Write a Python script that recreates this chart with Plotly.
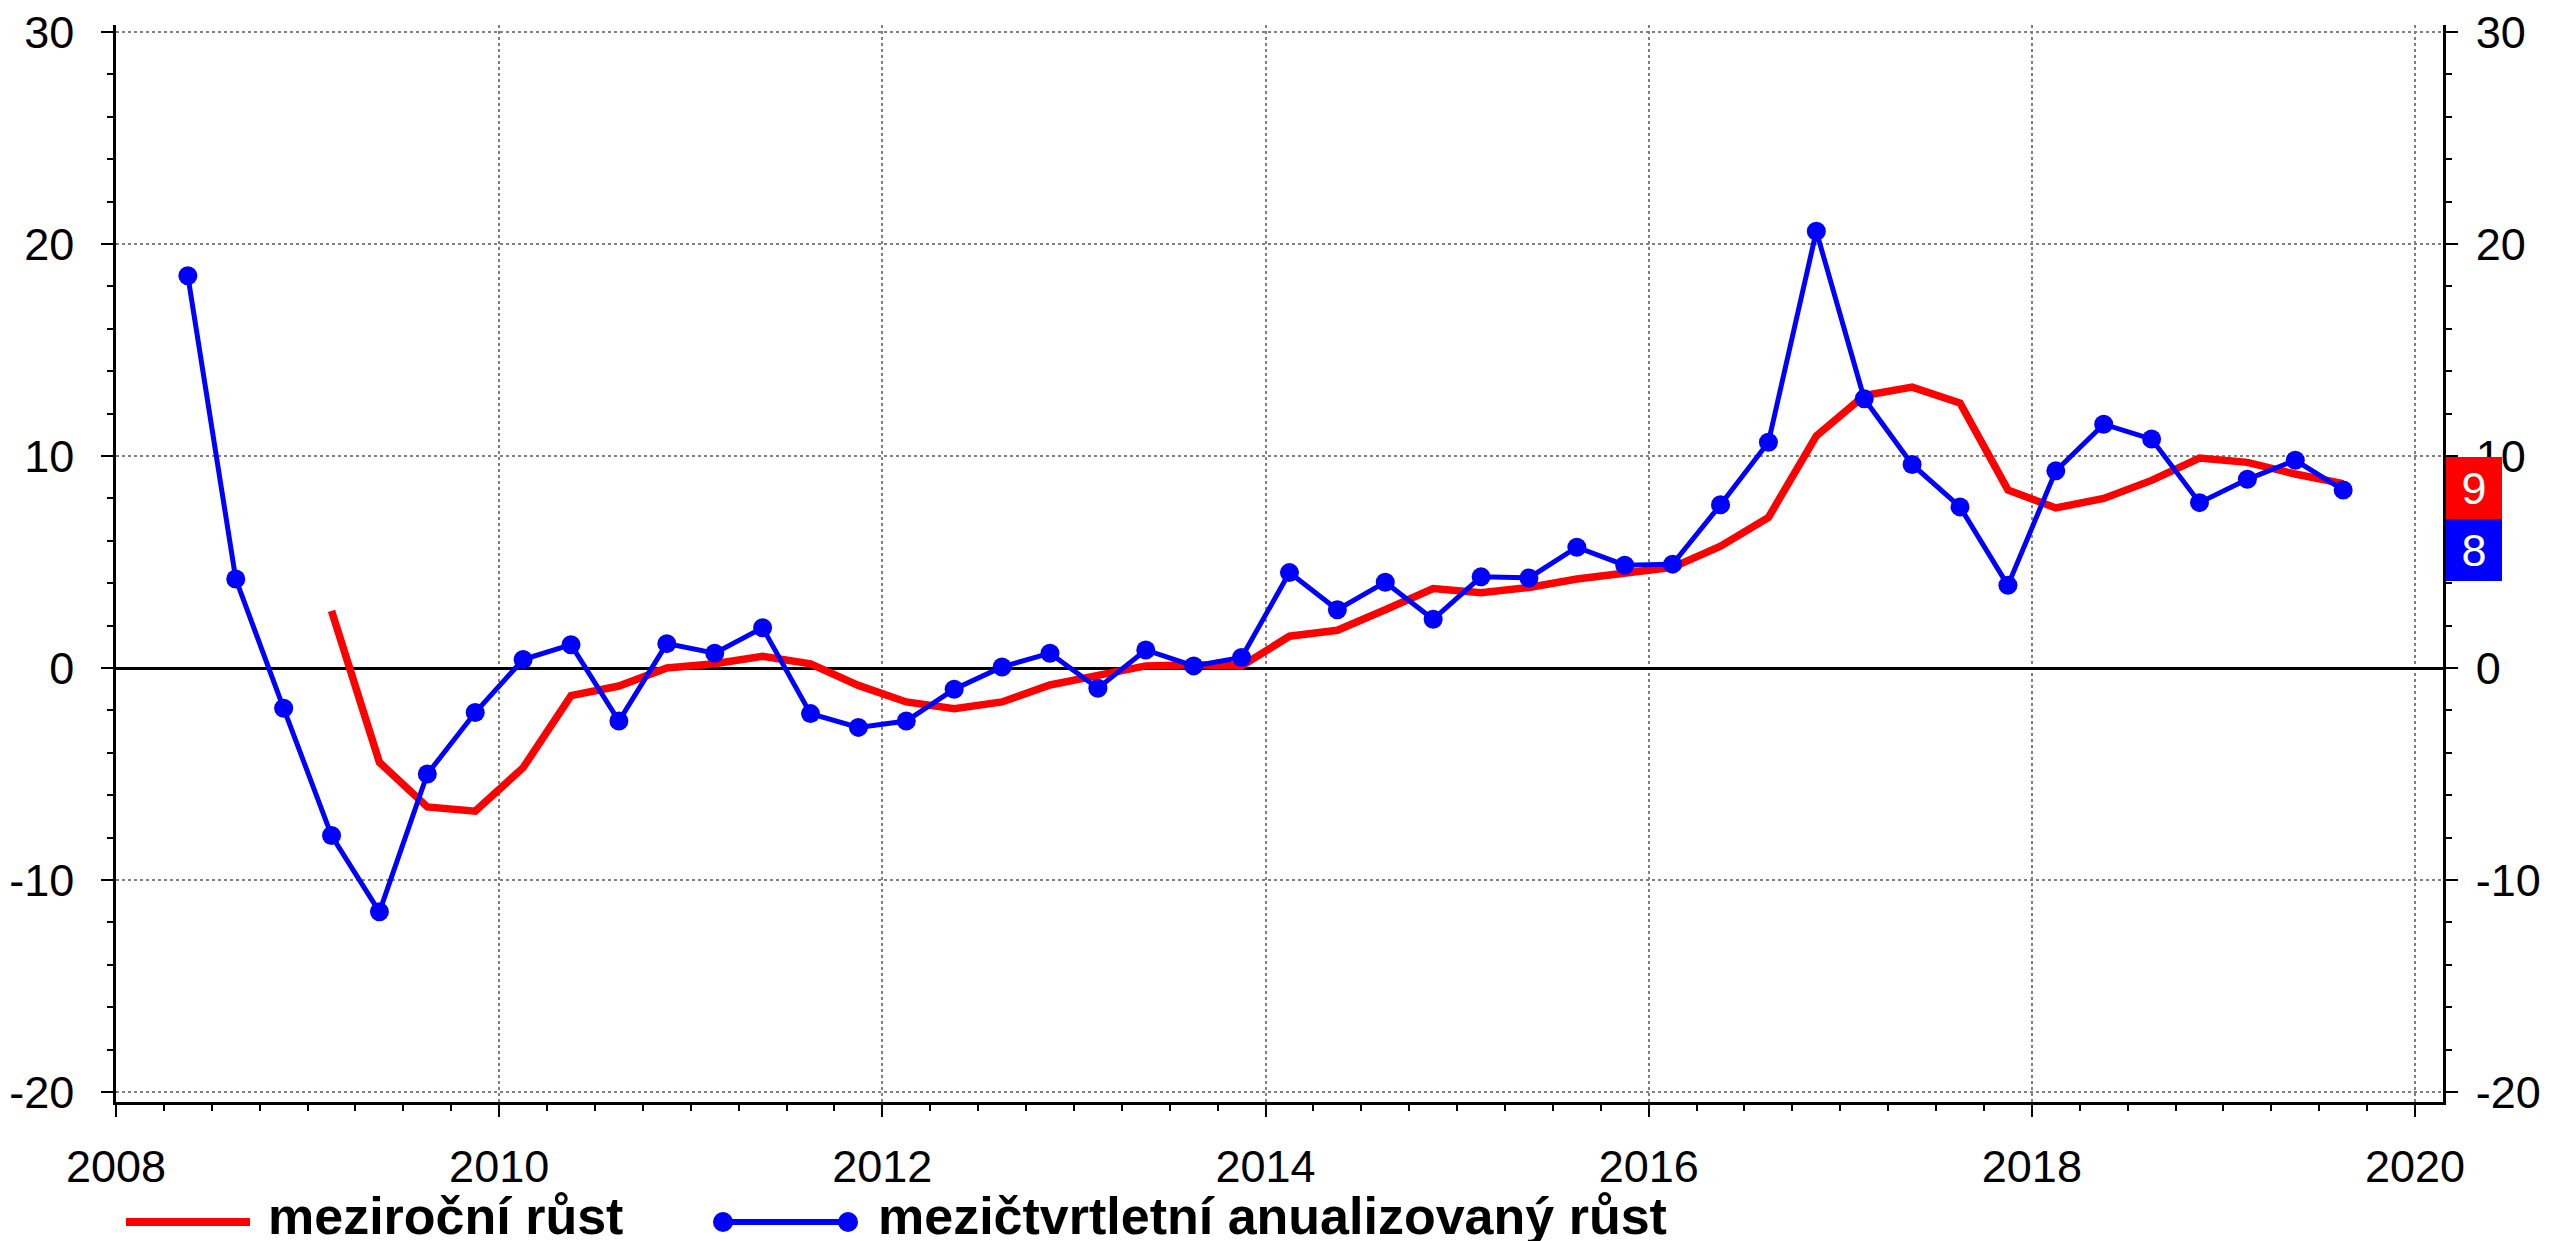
import plotly.graph_objects as go

# ---- data ----
blue_quarters_start = (2008, 2)   # first quarter of the q/q series
blue_values = [18.5, 4.2, -1.9,
               -7.9, -11.5, -5.0, -2.1,
               0.4, 1.1, -2.5, 1.15,
               0.7, 1.9, -2.15, -2.8,
               -2.5, -1.0, 0.05, 0.7,
               -0.95, 0.85, 0.1, 0.5,
               4.5, 2.75, 4.05, 2.3,
               4.3, 4.25, 5.7, 4.85,
               4.9, 7.7, 10.65, 20.6,
               12.7, 9.6, 7.6, 3.9,
               9.3, 11.5, 10.8, 7.8,
               8.9, 9.8, 8.4]

red_quarters_start = (2009, 1)    # first quarter of the y/y series
red_values = [2.7, -4.45, -6.55, -6.75,
              -4.7, -1.3, -0.85, 0.0,
              0.2, 0.55, 0.2, -0.82,
              -1.6, -1.92, -1.6, -0.8,
              -0.35, 0.1, 0.16, 0.1,
              1.5, 1.78, 2.75, 3.75,
              3.55, 3.8, 4.2, 4.5,
              4.75, 5.75, 7.1, 10.95,
              12.85, 13.25, 12.5, 8.4,
              7.55, 8.0, 8.85, 9.9,
              9.7, 9.15, 8.7]

red_name = "meziroční růst"
blue_name = "mezičtvrtletní anualizovaný růst"
x_ticks = [2008, 2010, 2012, 2014, 2016, 2018, 2020]
y_ticks = [-20, -10, 0, 10, 20, 30]
y_ticktext = ["-20", "-10", "0", "10", "20", "30"]


def quarter_positions(start, n):
    y, q = start
    out = []
    for _ in range(n):
        out.append(y + (q - 0.5) / 4.0)
        q += 1
        if q > 4:
            q = 1
            y += 1
    return out


bx = quarter_positions(blue_quarters_start, len(blue_values))
rx = quarter_positions(red_quarters_start, len(red_values))

RED = "#ff0000"
BLUE = "#0000ff"
FONT = "Liberation Sans, Arial, sans-serif"

W, H = 2554, 1241
ML, MR, MT, MB = 116, 111, 25, 139
PW = W - ML - MR
PH = H - MT - MB
YR = [-20.47, 30.33]
XR = [2008, 2020.146]

fig = go.Figure()
fig.add_trace(go.Scatter(x=rx, y=red_values, mode="lines", name=red_name,
                         line=dict(color=RED, width=7.5), showlegend=False))
fig.add_trace(go.Scatter(x=bx, y=blue_values, mode="lines+markers", name=blue_name,
                         line=dict(color=BLUE, width=5),
                         marker=dict(color=BLUE, size=19), showlegend=False))
# dummy trace to carry the right-hand axis
fig.add_trace(go.Scatter(x=[None], y=[None], yaxis="y2", showlegend=False,
                         hoverinfo="skip"))

tick_font = dict(family=FONT, size=45, color="black")

fig.update_layout(
    width=W, height=H,
    margin=dict(l=ML, r=MR, t=MT, b=MB, pad=0),
    paper_bgcolor="white", plot_bgcolor="white",
    showlegend=False,
    xaxis=dict(range=XR, tickvals=x_ticks, ticktext=[str(v) for v in x_ticks],
               ticks="outside", ticklen=12, tickwidth=2, tickcolor="black",
               showline=True, linecolor="black", linewidth=3,
               showgrid=True, gridcolor="#7f7f7f", gridwidth=1.5, griddash="dot",
               zeroline=False, tickfont=tick_font, automargin=False,
               ticklabelstandoff=11,
               minor=dict(tick0=2008, dtick=0.25, ticks="outside", ticklen=6,
                          tickwidth=2, tickcolor="black", showgrid=False)),
    yaxis=dict(range=YR, tickvals=y_ticks, ticktext=y_ticktext,
               ticks="outside", ticklen=12, tickwidth=2,
               tickcolor="black", showline=True, linecolor="black", linewidth=2.5,
               showgrid=True, gridcolor="#7f7f7f", gridwidth=1.5, griddash="dot",
               zeroline=True, zerolinecolor="black", zerolinewidth=2.5,
               tickfont=tick_font, ticklabelstandoff=18, automargin=False,
               minor=dict(tick0=0, dtick=2, ticks="outside", ticklen=6,
                          tickwidth=2, tickcolor="black", showgrid=False)),
    yaxis2=dict(range=YR, overlaying="y", side="right", tickvals=y_ticks,
                ticktext=y_ticktext,
                ticks="outside", ticklen=12, tickwidth=2, tickcolor="black",
                showline=True, linecolor="black", linewidth=2.5,
                showgrid=False, zeroline=False, tickfont=tick_font,
                ticklabelstandoff=9, automargin=False,
                minor=dict(tick0=0, dtick=2, ticks="outside", ticklen=6,
                           tickwidth=2, tickcolor="black", showgrid=False)),
)


def px_x(p):
    return (p - ML) / PW


def px_y(p):
    return (H - MB - p) / PH


# value boxes on the right axis
box_x = px_x(2446)
fig.add_annotation(xref="paper", yref="paper", x=box_x, y=px_y(488),
                   xanchor="left", yanchor="middle", width=56, height=62,
                   text=str(round(red_values[-1])), showarrow=False,
                   bgcolor=RED, borderpad=0, borderwidth=0,
                   font=dict(family=FONT, size=45, color="white"))
fig.add_annotation(xref="paper", yref="paper", x=box_x, y=px_y(550),
                   xanchor="left", yanchor="middle", width=56, height=62,
                   text=str(round(blue_values[-1])), showarrow=False,
                   bgcolor=BLUE, borderpad=0, borderwidth=0,
                   font=dict(family=FONT, size=45, color="white"))

# custom legend
ly = px_y(1222)
ty = px_y(1216)
fig.add_shape(type="line", xref="paper", yref="paper",
              x0=px_x(126), x1=px_x(250), y0=ly, y1=ly,
              line=dict(color=RED, width=8))
fig.add_annotation(xref="paper", yref="paper", x=px_x(266), y=ty,
                   xanchor="left", yanchor="middle", text=red_name,
                   showarrow=False,
                   font=dict(family=FONT, size=52, color="black", weight="bold"))
fig.add_shape(type="line", xref="paper", yref="paper",
              x0=px_x(723), x1=px_x(848), y0=ly, y1=ly,
              line=dict(color=BLUE, width=6))
for cx in (723, 848):
    fig.add_shape(type="circle", xref="paper", yref="paper",
                  x0=px_x(cx - 10), x1=px_x(cx + 10),
                  y0=px_y(1222 + 10), y1=px_y(1222 - 10),
                  line=dict(color=BLUE, width=0), fillcolor=BLUE)
fig.add_annotation(xref="paper", yref="paper", x=px_x(876), y=ty,
                   xanchor="left", yanchor="middle", text=blue_name,
                   showarrow=False,
                   font=dict(family=FONT, size=52, color="black", weight="bold"))

fig.write_html("out.html",
               config={"displayModeBar": False},
               post_script="document.body.style.margin='0';"
                           "document.body.style.padding='0';"
                           "document.body.style.overflow='hidden';")
